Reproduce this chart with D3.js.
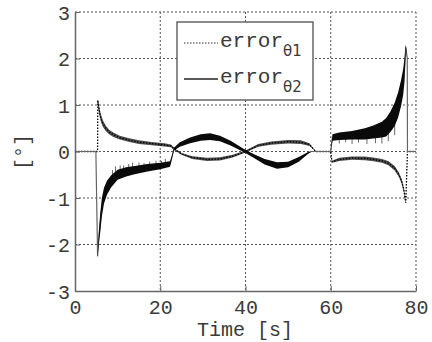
<!DOCTYPE html>
<html lang="en">
<head>
<meta charset="utf-8">
<title>Joint errors</title>
<style>
  body { margin: 0; background: #fff; }
  text { font-family: "Liberation Mono", "DejaVu Sans Mono", monospace; fill: #3a3a3a; }
</style>
</head>
<body>
<svg id="chart" width="432" height="342"></svg>
<script src="https://d3js.org/d3.v7.min.js"></script>
<script>
// ticks
const xTicks = [0, 20, 40, 60, 80];
const yTicks = [-3, -2, -1, 0, 1, 2, 3];

// error theta1: [time, middle of band, half width of band]
const theta1 = [
  [0, 0, 0], [5.3, 0, 0], [5.35, 1.1, 0.02], [5.6, 0.92, 0.08], [6.0, 0.74, 0.08],
  [6.5, 0.61, 0.07], [7.2, 0.5, 0.06], [8.0, 0.42, 0.05], [9.0, 0.36, 0.05],
  [10.5, 0.3, 0.04], [12.5, 0.25, 0.04], [15, 0.2, 0.04], [18, 0.17, 0.035],
  [21, 0.14, 0.035], [22.5, 0.12, 0.03], [23.5, 0.04, 0.02], [25, -0.05, 0.02],
  [27.5, -0.13, 0.03], [31, -0.17, 0.035], [34, -0.16, 0.035], [37, -0.1, 0.03],
  [40, 0, 0.02], [43, 0.13, 0.03], [46, 0.18, 0.035], [50, 0.21, 0.04],
  [53, 0.2, 0.04], [55, 0.15, 0.03], [56.5, 0, 0], [60, 0, 0], [60.3, -0.22, 0.02],
  [62, -0.17, 0.035], [65, -0.14, 0.035], [68, -0.15, 0.04], [70, -0.17, 0.04],
  [72, -0.2, 0.04], [73.5, -0.25, 0.045], [75, -0.36, 0.05], [76, -0.5, 0.05],
  [76.7, -0.66, 0.05], [77.2, -0.85, 0.05], [77.6, -1.1, 0.02], [78, 0, 0], [80, 0, 0]
];

// error theta2: [time, middle of band, half width of band]
const theta2 = [
  [0, 0, 0], [4.9, 0, 0], [5.3, -2.25, 0.03], [5.6, -1.85, 0.12], [5.9, -1.55, 0.2],
  [6.3, -1.2, 0.2], [6.8, -0.95, 0.17], [7.5, -0.78, 0.15], [8.5, -0.64, 0.13],
  [10, -0.5, 0.11], [12, -0.44, 0.1], [14, -0.4, 0.09], [17, -0.35, 0.08],
  [20, -0.31, 0.07], [22.3, -0.27, 0.06], [22.8, -0.1, 0.03], [23.2, 0.05, 0.03],
  [24.6, 0.15, 0.05], [27, 0.24, 0.06], [29.5, 0.3, 0.07], [31.7, 0.32, 0.07],
  [34, 0.28, 0.06], [36.5, 0.18, 0.05], [38.5, 0.08, 0.04], [40, 0, 0.03],
  [42, -0.1, 0.04], [44.5, -0.22, 0.06], [47.4, -0.3, 0.07], [50, -0.28, 0.06],
  [52.5, -0.17, 0.05], [54.7, -0.03, 0.02], [55.5, 0, 0], [60, 0, 0],
  [60.4, 0.3, 0.07], [62, 0.33, 0.08], [65, 0.35, 0.09], [68, 0.38, 0.12],
  [70, 0.42, 0.14], [72, 0.47, 0.17], [73, 0.52, 0.2], [74, 0.64, 0.22],
  [75, 0.8, 0.25], [75.8, 1.0, 0.27], [76.5, 1.26, 0.28], [77, 1.5, 0.28],
  [77.3, 1.75, 0.25], [77.6, 2.25, 0.05], [77.95, 2.0, 0], [78, 0, 0], [80, 0, 0]
];

// thin spikes sticking out of the theta2 band: [time, from, to]
const theta2Spikes = [
  [8.8, -0.6, -0.4], [9.5, -0.55, -0.32], [10.6, -0.5, -0.3], [11.4, -0.47, -0.3],
  [12.6, -0.44, -0.27], [13.5, -0.42, -0.24], [15, -0.39, -0.24], [16.2, -0.37, -0.25],
  [17.5, -0.35, -0.22], [19, -0.33, -0.2], [20.3, -0.31, -0.2], [21.2, -0.3, -0.16],
  [62, 0.3, 0.17], [63.5, 0.31, 0.2], [65, 0.31, 0.16], [66.5, 0.32, 0.19],
  [68.5, 0.33, 0.16], [70.5, 0.35, 0.18], [72, 0.38, 0.17], [73.5, 0.45, 0.22], [75, 0.6, 0.35]
];

const svg = d3.select("#chart");
const plotL = 75, plotR = 416, plotT = 12, plotB = 291;

const x = d3.scaleLinear().domain([0, 80]).range([plotL, plotR]);
const y = d3.scaleLinear().domain([-3, 3]).range([plotB, plotT]);

// grid
const grid = svg.append("g").attr("stroke", "#555").attr("stroke-width", 1).attr("stroke-dasharray", "2,2");
grid.selectAll(".gx").data(xTicks.filter(d => d > 0)).join("line")
  .attr("x1", d => x(d)).attr("x2", d => x(d)).attr("y1", plotT).attr("y2", plotB);
grid.selectAll(".gy").data(yTicks.filter(d => d > -3)).join("line")
  .attr("x1", plotL).attr("x2", plotR).attr("y1", d => y(d)).attr("y2", d => y(d));

// axes
const xAxis = svg.append("g").attr("transform", "translate(0," + plotB + ")")
  .call(d3.axisBottom(x).tickValues(xTicks).tickSizeInner(-5).tickSizeOuter(0).tickPadding(9));
const yAxis = svg.append("g").attr("transform", "translate(" + plotL + ",0)")
  .call(d3.axisLeft(y).tickValues(yTicks).tickSizeInner(-5).tickSizeOuter(0).tickPadding(5)
    .tickFormat(d => d < 0 ? "-" + Math.abs(d) : d));
[xAxis, yAxis].forEach(a => {
  a.select(".domain").attr("stroke", "#666").attr("stroke-width", 1.5);
  a.selectAll(".tick line").attr("stroke", "#666");
  a.selectAll(".tick text").attr("font-size", 20).attr("font-family", "Liberation Mono").attr("fill", "#3a3a3a");
});
yAxis.selectAll(".tick text").attr("dy", "0.35em");

// data
const band = d3.area().x(d => x(d[0])).y0(d => y(d[1] - d[2])).y1(d => y(d[1] + d[2]));
const mid = d3.line().x(d => x(d[0])).y(d => y(d[1]));

svg.append("path").datum(theta1).attr("d", band).attr("fill", "#222").attr("fill-opacity", 0.8);
svg.append("path").datum(theta1).attr("d", mid).attr("fill", "none")
  .attr("stroke", "#000").attr("stroke-width", 1.3).attr("stroke-dasharray", "1.5,1.5");

svg.append("g").selectAll("line").data(theta2Spikes).join("line")
  .attr("x1", d => x(d[0])).attr("x2", d => x(d[0]))
  .attr("y1", d => y(d[1])).attr("y2", d => y(d[2]))
  .attr("stroke", "#444").attr("stroke-width", 0.8);
svg.append("path").datum(theta2).attr("d", mid).attr("fill", "none")
  .attr("stroke", "#666").attr("stroke-width", 1.2);
svg.append("path").datum(theta2).attr("d", band).attr("fill", "#0a0a0a");

// legend
const lg = svg.append("g");
lg.append("rect").attr("x", 177).attr("y", 22).attr("width", 136).attr("height", 78)
  .attr("fill", "#fff").attr("stroke", "#666").attr("stroke-width", 1.5);
lg.append("line").attr("x1", 184).attr("x2", 218).attr("y1", 43).attr("y2", 43)
  .attr("stroke", "#333").attr("stroke-width", 1.2).attr("stroke-dasharray", "1.5,1.5");
lg.append("line").attr("x1", 184).attr("x2", 218).attr("y1", 79).attr("y2", 79)
  .attr("stroke", "#222").attr("stroke-width", 1.3);
[["θ1", 47], ["θ2", 83]].forEach(([sub, base]) => {
  const t = lg.append("text").attr("x", 220).attr("y", base).attr("font-size", 21);
  t.append("tspan").text("error");
  t.append("tspan").attr("dy", 9).attr("font-size", 15).attr("font-family", "DejaVu Sans").text(sub);
});

// axis labels
svg.append("text").attr("x", 245).attr("y", 336).attr("text-anchor", "middle")
  .attr("font-size", 20).text("Time [s]");
svg.append("text").attr("transform", "translate(29,152) rotate(-90)").attr("text-anchor", "middle")
  .attr("font-size", 20).attr("fill", "#444").text("[°]");
</script>
</body>
</html>
